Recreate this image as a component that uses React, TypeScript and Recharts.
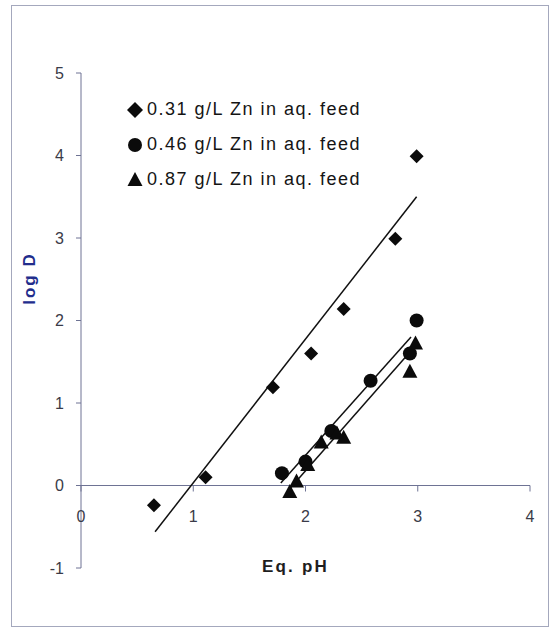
import {
  ScatterChart,
  Scatter,
  XAxis,
  YAxis,
  ReferenceLine,
  Legend,
} from "recharts";

// measured values (Eq. pH vs log D)
const ZN031_PH = [0.65, 1.11, 1.71, 2.05, 2.34, 2.8, 2.99];
const ZN031_LOGD = [-0.24, 0.1, 1.19, 1.6, 2.14, 2.99, 3.99];

const ZN046_PH = [1.79, 2.0, 2.23, 2.58, 2.93, 2.99];
const ZN046_LOGD = [0.15, 0.29, 0.66, 1.27, 1.6, 2.0];

const ZN087_PH = [1.86, 1.92, 2.02, 2.14, 2.28, 2.34, 2.93, 2.98];
const ZN087_LOGD = [-0.08, 0.05, 0.25, 0.52, 0.63, 0.58, 1.38, 1.72];

// linear fit end points
const FIT031_PH = [0.66, 2.99];
const FIT031_LOGD = [-0.56, 3.5];
const FIT046_PH = [1.78, 2.94];
const FIT046_LOGD = [0.03, 1.8];
const FIT087_PH = [1.84, 2.97];
const FIT087_LOGD = [-0.07, 1.68];

const X_TICKS = [0, 1, 2, 3, 4];
const Y_TICKS = [-1, 0, 1, 2, 3, 4, 5];

const SERIES = [
  { name: "0.31 g/L Zn in aq. feed", kind: "diamond" },
  { name: "0.46 g/L Zn in aq. feed", kind: "circle" },
  { name: "0.87 g/L Zn in aq. feed", kind: "triangle" },
];

const zip = (xs: number[], ys: number[]) => xs.map((x, i) => ({ x, y: ys[i] }));

const FONT = '"Liberation Sans", Arial, sans-serif';
const AXIS = "#6e7394";
const TICK = "#3a3b48";
const INK = "#0b0b0b";

const W = 550;
const H = 628;
const TOP = 73;
const X_AXIS_H = 60;
const PLOT_H = H - TOP - X_AXIS_H;
// pixel row of log D = 0, where the x axis crosses
const ZERO_Y = TOP + (PLOT_H * Y_TICKS[Y_TICKS.length - 1]) / (Y_TICKS[Y_TICKS.length - 1] - Y_TICKS[0]);

const Marker = ({ kind, cx, cy, big }: { kind: string; cx: number; cy: number; big?: boolean }) => {
  if (kind === "diamond") {
    const r = big ? 8 : 7;
    return <polygon points={`${cx},${cy - r} ${cx + r},${cy} ${cx},${cy + r} ${cx - r},${cy}`} fill={INK} />;
  }
  if (kind === "circle") return <circle cx={cx} cy={cy} r={7} fill={INK} />;
  return <polygon points={`${cx},${cy - 8} ${cx + 7.5},${cy + 6} ${cx - 7.5},${cy + 6}`} fill={INK} />;
};

const XTick = ({ x, payload }: any) => (
  <g>
    <line x1={x} x2={x} y1={ZERO_Y} y2={ZERO_Y + 6} stroke={AXIS} />
    <text x={x} y={ZERO_Y + 36} textAnchor="middle" fill={TICK} fontSize={16} fontFamily={FONT}>
      {payload.value}
    </text>
  </g>
);

const LegendBox = () => (
  <div style={{ fontFamily: FONT, fontSize: 18, letterSpacing: 1.5, color: "#141414" }}>
    {SERIES.map((s) => (
      <div key={s.name} style={{ display: "flex", alignItems: "center", height: 35 }}>
        <svg width={16} height={16} style={{ overflow: "visible" }}>
          <Marker kind={s.kind} cx={8} cy={8} big />
        </svg>
        <span style={{ marginLeft: 4 }}>{s.name}</span>
      </div>
    ))}
  </div>
);

const noDot = () => <g />;

export default function App() {
  return (
    <div style={{ position: "absolute", left: 0, top: 0, width: W, height: H, background: "#fff" }}>
      <div
        style={{
          position: "absolute",
          left: 11,
          top: 5,
          width: 536,
          height: 620,
          border: "1px solid #a4a8bd",
          pointerEvents: "none",
        }}
      />
      <ScatterChart width={W} height={H} margin={{ top: TOP, right: 20, bottom: 0, left: 0 }}>
        <XAxis
          type="number"
          dataKey="x"
          domain={[0, 4]}
          ticks={X_TICKS}
          height={X_AXIS_H}
          axisLine={false}
          tickLine={false}
          tick={(p: any) => <XTick {...p} />}
          label={{
            content: ({ viewBox }: any) => (
              <text
                x={viewBox.x + viewBox.width / 2 - 10}
                y={viewBox.y + 4}
                textAnchor="middle"
                fontFamily={FONT}
                fontWeight="bold"
                fontSize={17}
                letterSpacing={2.2}
                fill="#1e1e1e"
              >
                Eq. pH
              </text>
            ),
          }}
        />
        <YAxis
          type="number"
          dataKey="y"
          domain={[-1, 5]}
          ticks={Y_TICKS}
          width={81}
          stroke={AXIS}
          tickSize={5}
          tickMargin={12}
          tick={{ fill: TICK, fontSize: 16, fontFamily: FONT }}
          label={{
            content: ({ viewBox }: any) => {
              const cx = viewBox.x + 29;
              const cy = viewBox.y + viewBox.height / 2 - 42;
              return (
                <text
                  x={cx}
                  y={cy}
                  transform={`rotate(-90 ${cx} ${cy})`}
                  textAnchor="middle"
                  dominantBaseline="central"
                  fontFamily={FONT}
                  fontWeight="bold"
                  fontSize={17}
                  letterSpacing={2}
                  fill="#222d8c"
                >
                  log D
                </text>
              );
            },
          }}
        />
        <ReferenceLine y={0} stroke={AXIS} />
        <Scatter data={zip(FIT031_PH, FIT031_LOGD)} line={{ stroke: "#111", strokeWidth: 1.5 }} shape={noDot} legendType="none" isAnimationActive={false} />
        <Scatter data={zip(FIT046_PH, FIT046_LOGD)} line={{ stroke: "#111", strokeWidth: 1.5 }} shape={noDot} legendType="none" isAnimationActive={false} />
        <Scatter data={zip(FIT087_PH, FIT087_LOGD)} line={{ stroke: "#111", strokeWidth: 1.5 }} shape={noDot} legendType="none" isAnimationActive={false} />
        <Scatter name={SERIES[0].name} data={zip(ZN031_PH, ZN031_LOGD)} shape={(p: any) => <Marker kind="diamond" cx={p.cx} cy={p.cy} />} isAnimationActive={false} />
        <Scatter name={SERIES[1].name} data={zip(ZN046_PH, ZN046_LOGD)} shape={(p: any) => <Marker kind="circle" cx={p.cx} cy={p.cy} />} isAnimationActive={false} />
        <Scatter name={SERIES[2].name} data={zip(ZN087_PH, ZN087_LOGD)} shape={(p: any) => <Marker kind="triangle" cx={p.cx} cy={p.cy} />} isAnimationActive={false} />
        <Legend
          layout="vertical"
          align="center"
          verticalAlign="middle"
          content={<LegendBox />}
          wrapperStyle={{ left: 127, top: 92, width: "auto" }}
        />
      </ScatterChart>
    </div>
  );
}
